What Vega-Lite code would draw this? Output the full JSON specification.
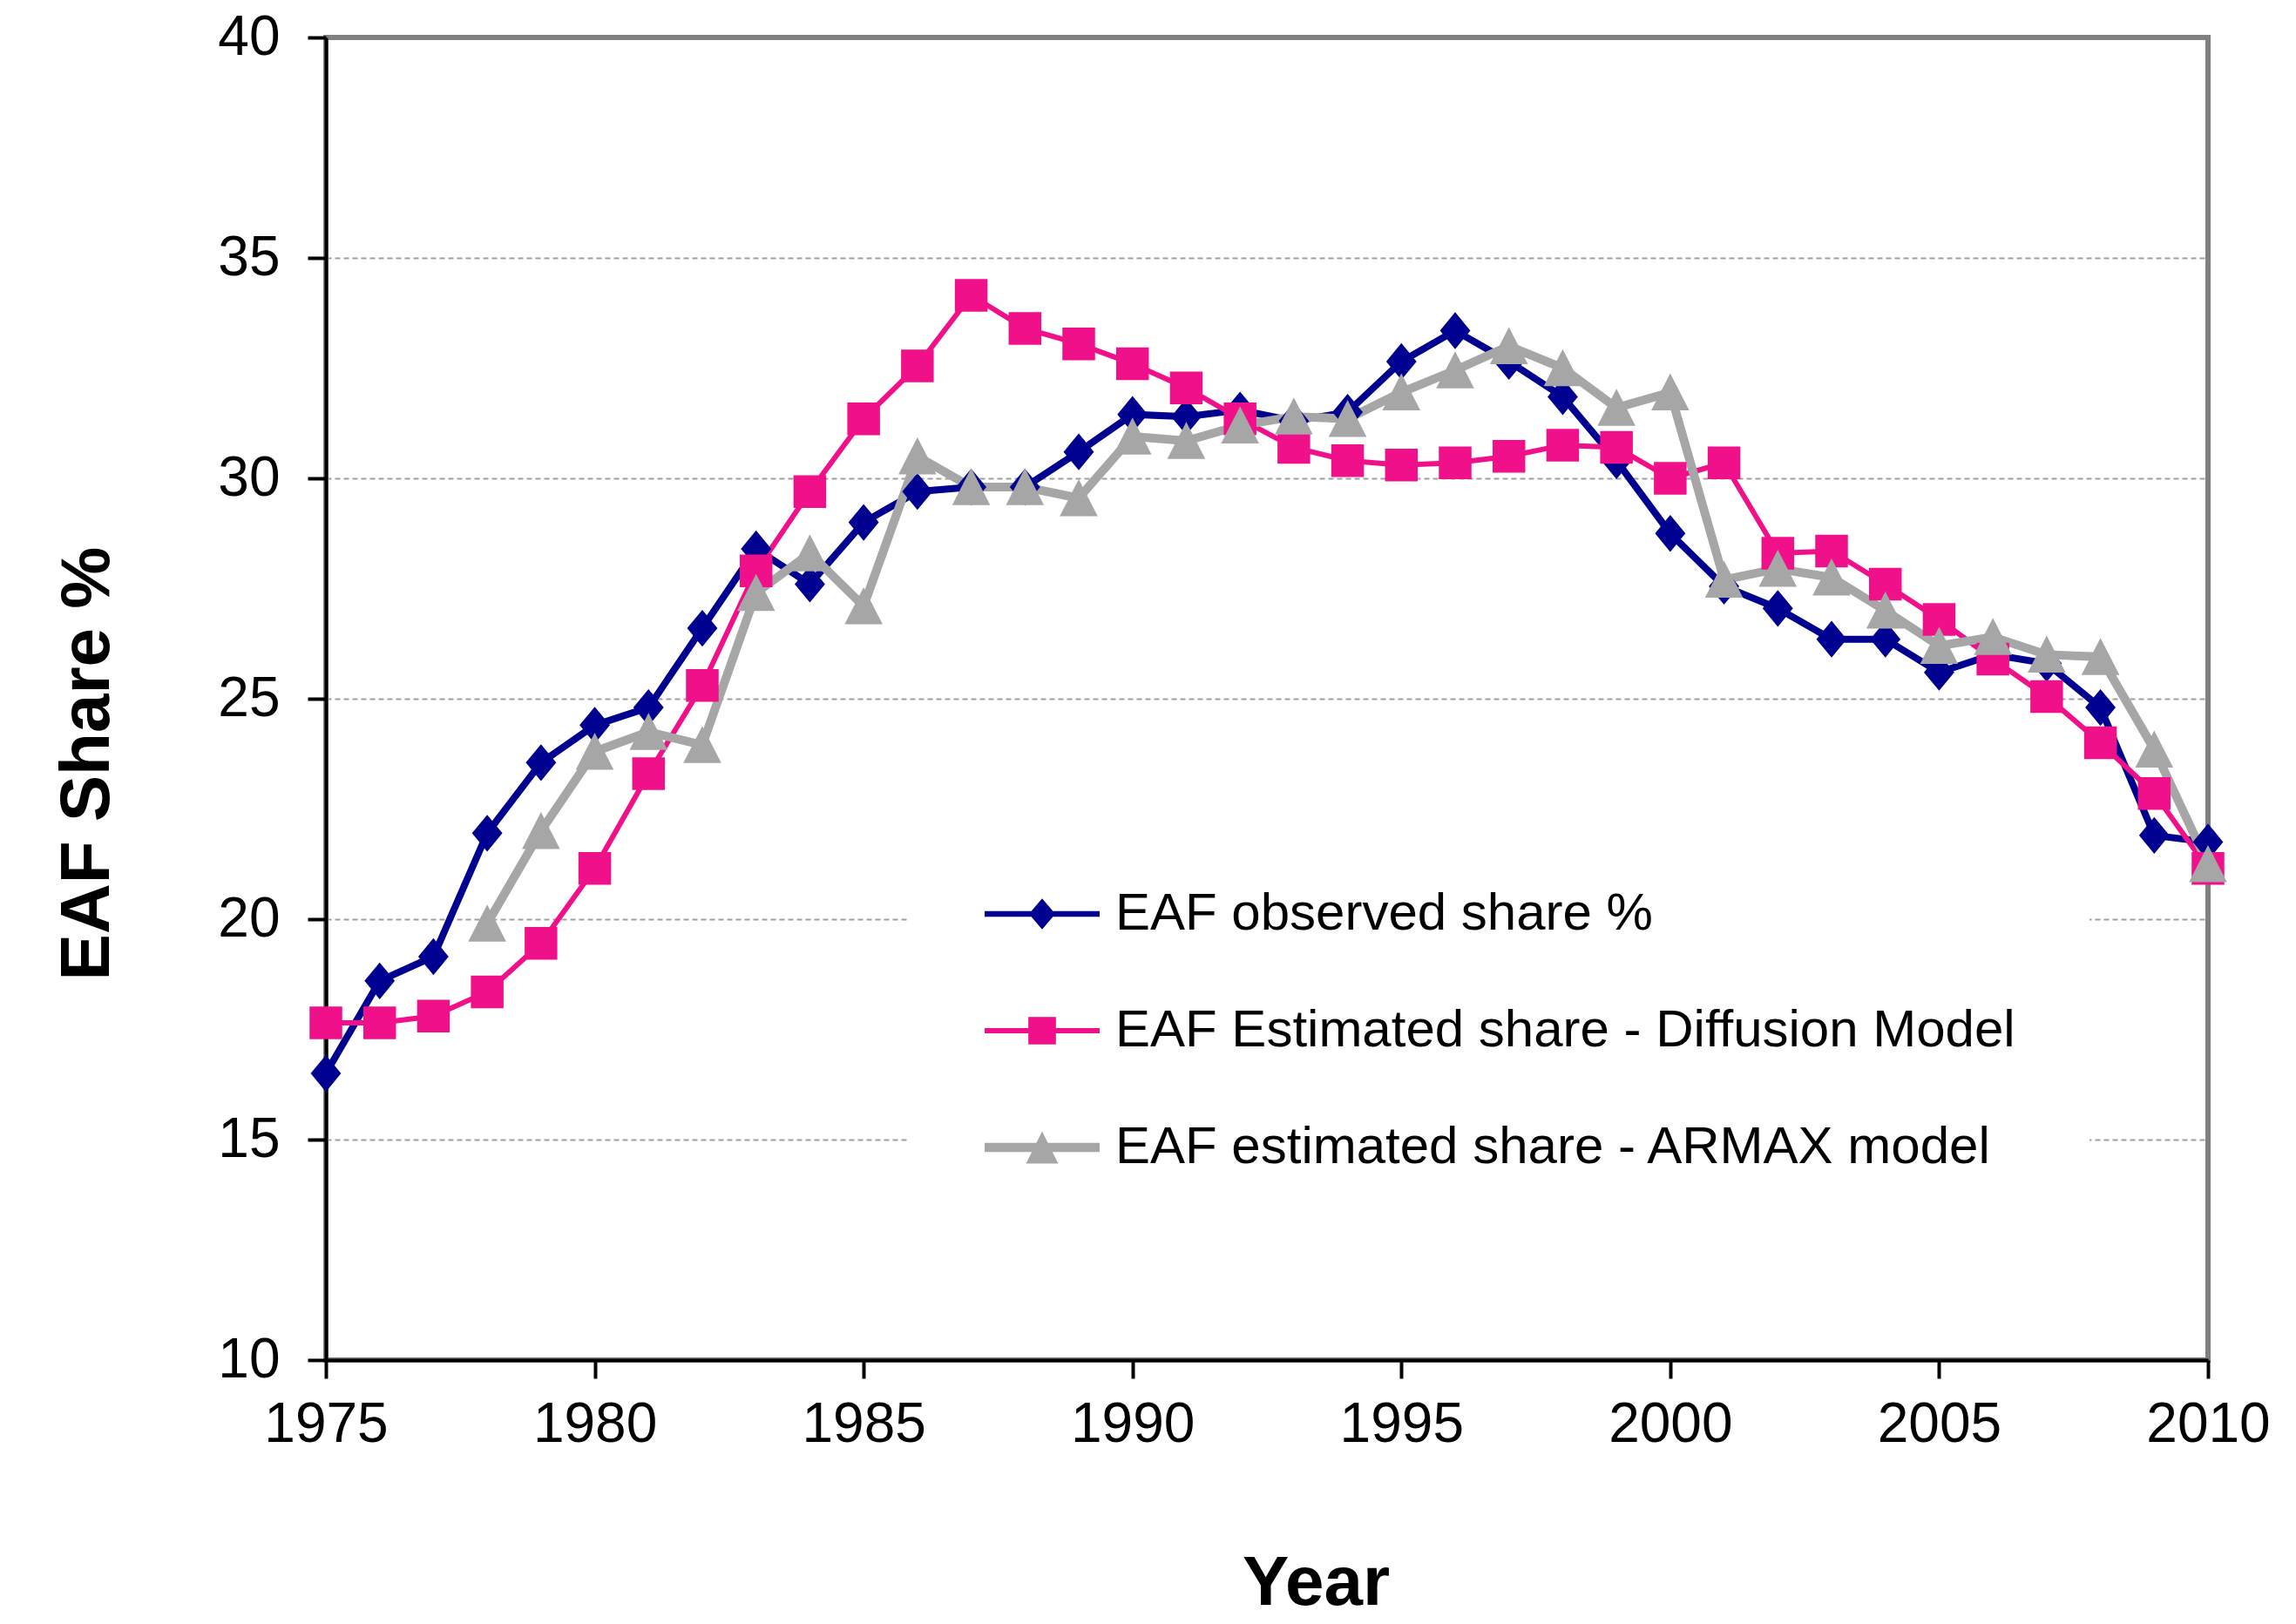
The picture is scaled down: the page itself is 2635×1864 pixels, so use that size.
{
  "$schema": "https://vega.github.io/schema/vega-lite/v6.json",
  "width": 2160,
  "height": 1518,
  "autosize": {"type": "none"},
  "padding": {"left": 374, "top": 43, "right": 101, "bottom": 303},
  "background": "white",
  "config": {
    "view": {"stroke": "#808080", "strokeWidth": 6},
    "font": "Liberation Sans"
  },
  "data": {
    "values": [
      {"year": 1975, "series": "EAF observed share %", "value": 16.5},
      {"year": 1976, "series": "EAF observed share %", "value": 18.6},
      {"year": 1977, "series": "EAF observed share %", "value": 19.15},
      {"year": 1978, "series": "EAF observed share %", "value": 21.95},
      {"year": 1979, "series": "EAF observed share %", "value": 23.55},
      {"year": 1980, "series": "EAF observed share %", "value": 24.4},
      {"year": 1981, "series": "EAF observed share %", "value": 24.8},
      {"year": 1982, "series": "EAF observed share %", "value": 26.6},
      {"year": 1983, "series": "EAF observed share %", "value": 28.4},
      {"year": 1984, "series": "EAF observed share %", "value": 27.6},
      {"year": 1985, "series": "EAF observed share %", "value": 29.0},
      {"year": 1986, "series": "EAF observed share %", "value": 29.7},
      {"year": 1987, "series": "EAF observed share %", "value": 29.8},
      {"year": 1988, "series": "EAF observed share %", "value": 29.8},
      {"year": 1989, "series": "EAF observed share %", "value": 30.6},
      {"year": 1990, "series": "EAF observed share %", "value": 31.45},
      {"year": 1991, "series": "EAF observed share %", "value": 31.4},
      {"year": 1992, "series": "EAF observed share %", "value": 31.55},
      {"year": 1993, "series": "EAF observed share %", "value": 31.3},
      {"year": 1994, "series": "EAF observed share %", "value": 31.5},
      {"year": 1995, "series": "EAF observed share %", "value": 32.65},
      {"year": 1996, "series": "EAF observed share %", "value": 33.35},
      {"year": 1997, "series": "EAF observed share %", "value": 32.65},
      {"year": 1998, "series": "EAF observed share %", "value": 31.85},
      {"year": 1999, "series": "EAF observed share %", "value": 30.4},
      {"year": 2000, "series": "EAF observed share %", "value": 28.75},
      {"year": 2001, "series": "EAF observed share %", "value": 27.55},
      {"year": 2002, "series": "EAF observed share %", "value": 27.05},
      {"year": 2003, "series": "EAF observed share %", "value": 26.35},
      {"year": 2004, "series": "EAF observed share %", "value": 26.35},
      {"year": 2005, "series": "EAF observed share %", "value": 25.6},
      {"year": 2006, "series": "EAF observed share %", "value": 26.0},
      {"year": 2007, "series": "EAF observed share %", "value": 25.8},
      {"year": 2008, "series": "EAF observed share %", "value": 24.8},
      {"year": 2009, "series": "EAF observed share %", "value": 21.9},
      {"year": 2010, "series": "EAF observed share %", "value": 21.75},
      {"year": 1975, "series": "EAF Estimated share - Diffusion Model", "value": 17.65},
      {"year": 1976, "series": "EAF Estimated share - Diffusion Model", "value": 17.65},
      {"year": 1977, "series": "EAF Estimated share - Diffusion Model", "value": 17.8},
      {"year": 1978, "series": "EAF Estimated share - Diffusion Model", "value": 18.35},
      {"year": 1979, "series": "EAF Estimated share - Diffusion Model", "value": 19.45},
      {"year": 1980, "series": "EAF Estimated share - Diffusion Model", "value": 21.15},
      {"year": 1981, "series": "EAF Estimated share - Diffusion Model", "value": 23.3},
      {"year": 1982, "series": "EAF Estimated share - Diffusion Model", "value": 25.3},
      {"year": 1983, "series": "EAF Estimated share - Diffusion Model", "value": 27.9},
      {"year": 1984, "series": "EAF Estimated share - Diffusion Model", "value": 29.7},
      {"year": 1985, "series": "EAF Estimated share - Diffusion Model", "value": 31.35},
      {"year": 1986, "series": "EAF Estimated share - Diffusion Model", "value": 32.55},
      {"year": 1987, "series": "EAF Estimated share - Diffusion Model", "value": 34.15},
      {"year": 1988, "series": "EAF Estimated share - Diffusion Model", "value": 33.4},
      {"year": 1989, "series": "EAF Estimated share - Diffusion Model", "value": 33.05},
      {"year": 1990, "series": "EAF Estimated share - Diffusion Model", "value": 32.6},
      {"year": 1991, "series": "EAF Estimated share - Diffusion Model", "value": 32.05},
      {"year": 1992, "series": "EAF Estimated share - Diffusion Model", "value": 31.35},
      {"year": 1993, "series": "EAF Estimated share - Diffusion Model", "value": 30.7},
      {"year": 1994, "series": "EAF Estimated share - Diffusion Model", "value": 30.4},
      {"year": 1995, "series": "EAF Estimated share - Diffusion Model", "value": 30.3},
      {"year": 1996, "series": "EAF Estimated share - Diffusion Model", "value": 30.35},
      {"year": 1997, "series": "EAF Estimated share - Diffusion Model", "value": 30.5},
      {"year": 1998, "series": "EAF Estimated share - Diffusion Model", "value": 30.75},
      {"year": 1999, "series": "EAF Estimated share - Diffusion Model", "value": 30.7},
      {"year": 2000, "series": "EAF Estimated share - Diffusion Model", "value": 30.0},
      {"year": 2001, "series": "EAF Estimated share - Diffusion Model", "value": 30.35},
      {"year": 2002, "series": "EAF Estimated share - Diffusion Model", "value": 28.3},
      {"year": 2003, "series": "EAF Estimated share - Diffusion Model", "value": 28.35},
      {"year": 2004, "series": "EAF Estimated share - Diffusion Model", "value": 27.6},
      {"year": 2005, "series": "EAF Estimated share - Diffusion Model", "value": 26.8},
      {"year": 2006, "series": "EAF Estimated share - Diffusion Model", "value": 25.9},
      {"year": 2007, "series": "EAF Estimated share - Diffusion Model", "value": 25.05},
      {"year": 2008, "series": "EAF Estimated share - Diffusion Model", "value": 24.0},
      {"year": 2009, "series": "EAF Estimated share - Diffusion Model", "value": 22.85},
      {"year": 2010, "series": "EAF Estimated share - Diffusion Model", "value": 21.15},
      {"year": 1978, "series": "EAF estimated share - ARMAX model", "value": 19.9},
      {"year": 1979, "series": "EAF estimated share - ARMAX model", "value": 22.0},
      {"year": 1980, "series": "EAF estimated share - ARMAX model", "value": 23.8},
      {"year": 1981, "series": "EAF estimated share - ARMAX model", "value": 24.25},
      {"year": 1982, "series": "EAF estimated share - ARMAX model", "value": 23.95},
      {"year": 1983, "series": "EAF estimated share - ARMAX model", "value": 27.4},
      {"year": 1984, "series": "EAF estimated share - ARMAX model", "value": 28.3},
      {"year": 1985, "series": "EAF estimated share - ARMAX model", "value": 27.1},
      {"year": 1986, "series": "EAF estimated share - ARMAX model", "value": 30.5},
      {"year": 1987, "series": "EAF estimated share - ARMAX model", "value": 29.8},
      {"year": 1988, "series": "EAF estimated share - ARMAX model", "value": 29.8},
      {"year": 1989, "series": "EAF estimated share - ARMAX model", "value": 29.55},
      {"year": 1990, "series": "EAF estimated share - ARMAX model", "value": 30.95},
      {"year": 1991, "series": "EAF estimated share - ARMAX model", "value": 30.85},
      {"year": 1992, "series": "EAF estimated share - ARMAX model", "value": 31.2},
      {"year": 1993, "series": "EAF estimated share - ARMAX model", "value": 31.4},
      {"year": 1994, "series": "EAF estimated share - ARMAX model", "value": 31.35},
      {"year": 1995, "series": "EAF estimated share - ARMAX model", "value": 31.95},
      {"year": 1996, "series": "EAF estimated share - ARMAX model", "value": 32.45},
      {"year": 1997, "series": "EAF estimated share - ARMAX model", "value": 33.0},
      {"year": 1998, "series": "EAF estimated share - ARMAX model", "value": 32.5},
      {"year": 1999, "series": "EAF estimated share - ARMAX model", "value": 31.6},
      {"year": 2000, "series": "EAF estimated share - ARMAX model", "value": 31.95},
      {"year": 2001, "series": "EAF estimated share - ARMAX model", "value": 27.7},
      {"year": 2002, "series": "EAF estimated share - ARMAX model", "value": 27.95},
      {"year": 2003, "series": "EAF estimated share - ARMAX model", "value": 27.75},
      {"year": 2004, "series": "EAF estimated share - ARMAX model", "value": 27.0},
      {"year": 2005, "series": "EAF estimated share - ARMAX model", "value": 26.2},
      {"year": 2006, "series": "EAF estimated share - ARMAX model", "value": 26.4},
      {"year": 2007, "series": "EAF estimated share - ARMAX model", "value": 26.0},
      {"year": 2008, "series": "EAF estimated share - ARMAX model", "value": 25.95},
      {"year": 2009, "series": "EAF estimated share - ARMAX model", "value": 23.85},
      {"year": 2010, "series": "EAF estimated share - ARMAX model", "value": 21.25}
    ]
  },
  "encoding": {
    "x": {
      "field": "year",
      "type": "quantitative",
      "scale": {"domain": [1975, 2010], "nice": false, "zero": false},
      "axis": {
        "values": [1975, 1980, 1985, 1990, 1995, 2000, 2005, 2010],
        "format": "d",
        "grid": false,
        "domainColor": "black",
        "domainWidth": 4,
        "tickColor": "black",
        "tickWidth": 4,
        "tickSize": 21,
        "labelFont": "Liberation Sans",
        "labelFontSize": 64,
        "labelColor": "black",
        "labelPadding": 21,
        "labelFlush": false,
        "labelOverlap": false,
        "title": "Year",
        "titleFont": "Liberation Sans",
        "titleFontSize": 80,
        "titleFontWeight": "bold",
        "titleColor": "black",
        "titleX": 1136,
        "titleY": 280,
        "titleBaseline": "alphabetic",
        "titleAlign": "center"
      }
    },
    "y": {
      "field": "value",
      "type": "quantitative",
      "scale": {"domain": [10, 40], "nice": false, "zero": false},
      "axis": {
        "values": [10, 15, 20, 25, 30, 35, 40],
        "grid": true,
        "gridColor": "#a0a0a0",
        "gridDash": [6, 4],
        "gridWidth": 2,
        "gridOpacity": {"condition": {"test": "datum.value === 10 || datum.value === 40", "value": 0}, "value": 1},
        "domainColor": "black",
        "domainWidth": 4,
        "tickColor": "black",
        "tickWidth": 4,
        "tickSize": 21,
        "labelFont": "Liberation Sans",
        "labelFontSize": 64,
        "labelColor": "black",
        "labelPadding": 32,
        "labelFlush": false,
        "labelOverlap": false,
        "title": "EAF Share %",
        "titleFont": "Liberation Sans",
        "titleFontSize": 80,
        "titleFontWeight": "bold",
        "titleColor": "black",
        "titleAngle": 270,
        "titleX": -250,
        "titleY": 833,
        "titleBaseline": "alphabetic",
        "titleAlign": "center"
      }
    }
  },
  "resolve": {"scale": {"color": "independent", "shape": "independent"}},
  "layer": [
    {
      "mark": {"type": "line", "clip": false},
      "encoding": {
        "stroke": {
          "field": "series",
          "type": "nominal",
          "scale": {
            "domain": ["EAF Estimated share - Diffusion Model", "EAF estimated share - ARMAX model", "EAF observed share %"],
            "range": ["#F0108A", "#A6A6A6", "#000090"]
          },
          "legend": null
        },
        "strokeWidth": {
          "field": "series",
          "type": "nominal",
          "scale": {
            "domain": ["EAF estimated share - ARMAX model", "EAF observed share %", "EAF Estimated share - Diffusion Model"],
            "range": [10, 6, 5.5]
          },
          "legend": null
        }
      }
    },
    {
      "mark": {"type": "point", "filled": true, "size": 1900, "opacity": 1},
      "encoding": {
        "color": {
          "field": "series",
          "type": "nominal",
          "scale": {
            "domain": ["EAF observed share %", "EAF Estimated share - Diffusion Model", "EAF estimated share - ARMAX model"],
            "range": ["#000090", "#F0108A", "#A6A6A6"]
          },
          "legend": null
        },
        "shape": {
          "field": "series",
          "type": "nominal",
          "scale": {
            "domain": ["EAF observed share %", "EAF Estimated share - Diffusion Model", "EAF estimated share - ARMAX model"],
            "range": ["M0,-0.97L0.8,0L0,0.97L-0.8,0Z", "M-0.86,-0.86H0.86V0.86H-0.86Z", "M0,-1L1,0.95L-1,0.95Z"]
          },
          "legend": null
        }
      }
    },
    {
      "transform": [{"filter": "false"}],
      "mark": {"type": "point", "filled": true, "opacity": 1},
      "encoding": {
        "color": {
          "field": "series",
          "type": "nominal",
          "scale": {
            "domain": ["EAF observed share %", "EAF Estimated share - Diffusion Model", "EAF estimated share - ARMAX model"],
            "range": ["#000090", "#F0108A", "#A6A6A6"]
          },
          "legend": {
            "orient": "none",
            "legendX": 670,
            "legendY": 854,
            "title": null,
            "padding": 85,
            "fillColor": "white",
            "symbolSize": 17424,
            "labelFont": "Liberation Sans",
            "labelFontSize": 60,
            "labelColor": "black",
            "labelOffset": 17,
            "labelLimit": 2000,
            "rowPadding": 37
          }
        },
        "shape": {
          "field": "series",
          "type": "nominal",
          "scale": {
            "domain": ["EAF observed share %", "EAF Estimated share - Diffusion Model", "EAF estimated share - ARMAX model"],
            "range": [
              "M-1,-0.05H1V0.05H-1Z M0,-0.27L0.23,0L0,0.27L-0.23,0Z",
              "M-1,-0.045H1V0.045H-1Z M-0.24,-0.24H0.24V0.24H-0.24Z",
              "M-1,-0.08H1V0.08H-1Z M0,-0.28L0.28,0.28L-0.28,0.28Z"
            ]
          },
          "legend": {
            "orient": "none",
            "legendX": 670,
            "legendY": 854,
            "title": null,
            "padding": 85,
            "fillColor": "white",
            "symbolSize": 17424,
            "labelFont": "Liberation Sans",
            "labelFontSize": 60,
            "labelColor": "black",
            "labelOffset": 17,
            "labelLimit": 2000,
            "rowPadding": 37
          }
        }
      }
    }
  ]
}
